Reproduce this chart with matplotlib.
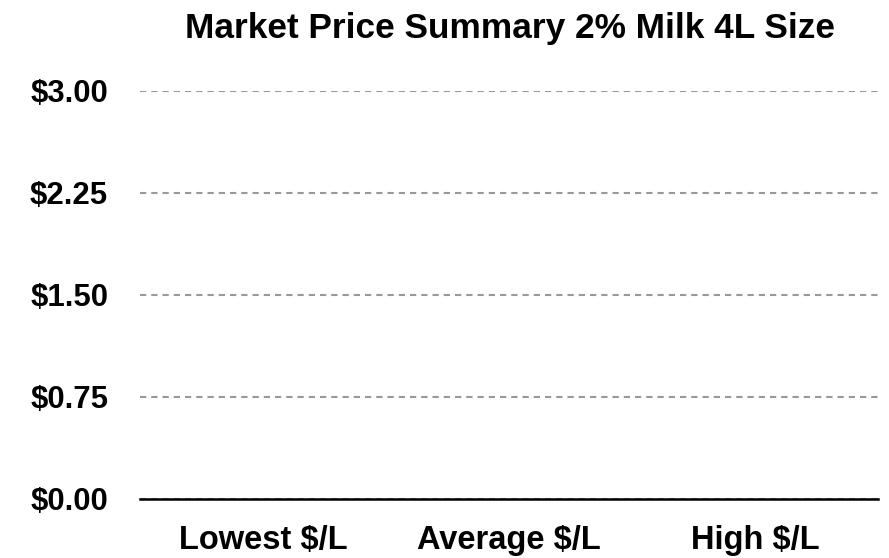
import matplotlib
matplotlib.use("Agg")
import matplotlib.pyplot as plt

# data (no bars are visible, all values are zero)
categories = ["Lowest $/L", "Average $/L", "High $/L"]
prices = [0.0, 0.0, 0.0]
yticks = [0.0, 0.75, 1.50, 2.25, 3.00]
ytick_labels = ["$0.00", "$0.75", "$1.50", "$2.25", "$3.00"]

plt.rcParams["font.family"] = ["Liberation Sans", "DejaVu Sans"]
plt.rcParams["font.weight"] = "bold"

fig = plt.figure(figsize=(8.89, 5.58), dpi=100)
ax = fig.add_axes([0.1575, 0.1058, 0.8305, 0.7312])

ax.bar(categories, prices, width=0.6, color="#4472c4", zorder=3)

ax.set_ylim(0, 3.0)
ax.set_xlim(-0.5, 2.5)
ax.set_yticks(yticks)
ax.set_yticklabels(ytick_labels)
ax.yaxis.grid(True, linestyle=(0, (3.0, 2.4)), color="#999999", linewidth=1.5, zorder=0)
ax.xaxis.grid(False)

for s in ["top", "right", "left"]:
    ax.spines[s].set_visible(False)
ax.spines["bottom"].set_linewidth(1.8)
ax.spines["bottom"].set_color("black")
ax.spines["bottom"].set_zorder(4)

ax.tick_params(axis="y", length=0, pad=23, labelsize=22.4)
ax.tick_params(axis="x", length=0, pad=18.5, labelsize=23.5)
for lab in ax.get_xticklabels() + ax.get_yticklabels():
    lab.set_fontweight("bold")

fig.text(0.5737, 0.9319, "Market Price Summary 2% Milk 4L Size",
         ha="center", va="baseline", fontsize=25.4, fontweight="bold")

fig.savefig("out.png", dpi=100)
